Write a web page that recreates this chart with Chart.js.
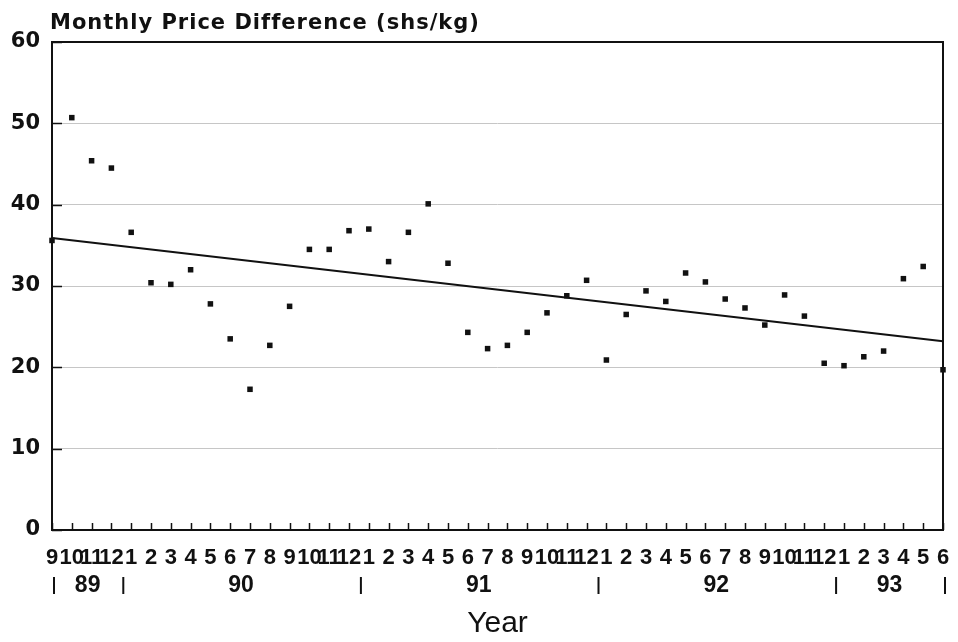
<!DOCTYPE html>
<html>
<head>
<meta charset="utf-8">
<script src="https://cdn.jsdelivr.net/npm/chart.js@4/dist/chart.umd.min.js"></script>
<style>
  html, body { margin: 0; padding: 0; background: #fff; }
  #wrap { width: 958px; height: 642px; position: relative; }
</style>
</head>
<body>
<div id="wrap"><canvas id="priceChart"></canvas></div>
<script>
// month numbers, Sep 1989 .. Jun 1993
const monthLabels = ['9', '10', '11', '12',
  '1', '2', '3', '4', '5', '6', '7', '8', '9', '10', '11', '12',
  '1', '2', '3', '4', '5', '6', '7', '8', '9', '10', '11', '12',
  '1', '2', '3', '4', '5', '6', '7', '8', '9', '10', '11', '12',
  '1', '2', '3', '4', '5', '6'];

// year groups under the month axis
const yearLabels = ['89', '90', '91', '92', '93'];
const monthsPerYear = [4, 12, 12, 12, 6];

// monthly price difference (shs/kg)
const priceDiff = [35.6, 50.7, 45.4, 44.5,
  36.6, 30.4, 30.2, 32.0, 27.8, 23.5, 17.3, 22.7, 27.5, 34.5, 34.5, 36.8,
  37.0, 33.0, 36.6, 40.1, 32.8, 24.3, 22.3, 22.7, 24.3, 26.7, 28.8, 30.7,
  20.9, 26.5, 29.4, 28.1, 31.6, 30.5, 28.4, 27.3, 25.2, 28.9, 26.3, 20.5,
  20.2, 21.3, 22.0, 30.9, 32.4, 19.7];

// linear trend, start and end values
const trendEnds = [35.9, 23.2];

const yTicks = [0, 10, 20, 30, 40, 50, 60];

const lastIdx = monthLabels.length - 1;
const points = priceDiff.map((v, i) => ({ x: i, y: v }));
const trend = [{ x: 0, y: trendEnds[0] }, { x: lastIdx, y: trendEnds[1] }];

const sansBold = "'Liberation Sans', Arial, sans-serif";

// frame, inner tick marks, heading and year row
const decorations = {
  id: 'decorations',
  beforeDatasetsDraw(chart) {
    const { ctx, chartArea: a, scales: { x, y } } = chart;
    ctx.save();
    ctx.strokeStyle = '#111';
    ctx.lineWidth = 1.5;
    ctx.beginPath();
    for (let i = 0; i <= lastIdx; i++) {
      const px = Math.round(x.getPixelForValue(i)) + 0.5;
      ctx.moveTo(px, a.bottom);
      ctx.lineTo(px, a.bottom - 7);
    }
    yTicks.forEach(t => {
      const py = Math.round(y.getPixelForValue(t)) + 0.5;
      ctx.moveTo(a.left, py);
      ctx.lineTo(a.left + 10, py);
    });
    ctx.stroke();
    ctx.lineWidth = 2;
    ctx.strokeRect(a.left, a.top, a.right - a.left, a.bottom - a.top);
    ctx.restore();
  },
  afterDraw(chart) {
    const { ctx, chartArea: a, scales: { x } } = chart;
    ctx.save();
    ctx.fillStyle = '#111';
    ctx.font = "bold 21px 'DejaVu Sans', sans-serif";
    if ('letterSpacing' in ctx) ctx.letterSpacing = '1px';
    ctx.textAlign = 'left';
    ctx.textBaseline = 'alphabetic';
    ctx.fillText('Monthly Price Difference (shs/kg)', a.left - 2, 29);
    if ('letterSpacing' in ctx) ctx.letterSpacing = '0px';

    // year separators and labels
    const breaks = [0];
    let cum = 0;
    monthsPerYear.forEach((n, i) => {
      cum += n;
      breaks.push(i === monthsPerYear.length - 1 ? lastIdx : cum - 0.5);
    });
    const bx = breaks.map(b => x.getPixelForValue(b));
    ctx.strokeStyle = '#111';
    ctx.lineWidth = 2;
    ctx.beginPath();
    bx.forEach(px => {
      ctx.moveTo(px + 2, 577);
      ctx.lineTo(px + 2, 594);
    });
    ctx.stroke();
    ctx.font = 'bold 23px ' + sansBold;
    ctx.textAlign = 'center';
    ctx.textBaseline = 'middle';
    yearLabels.forEach((lbl, i) => {
      ctx.fillText(lbl, (bx[i] + bx[i + 1]) / 2 + 1, 586);
    });
    ctx.restore();
  }
};

new Chart(document.getElementById('priceChart'), {
  type: 'scatter',
  data: {
    datasets: [{
      label: 'Price difference',
      data: points,
      pointStyle: 'rect',
      pointRadius: 3.9,
      pointHoverRadius: 3.9,
      backgroundColor: '#111',
      borderColor: '#111',
      borderWidth: 0,
      clip: false
    }, {
      type: 'line',
      label: 'Trend',
      data: trend,
      borderColor: '#111',
      borderWidth: 2,
      pointRadius: 0,
      fill: false,
      clip: false
    }]
  },
  options: {
    responsive: true,
    maintainAspectRatio: false,
    animation: false,
    layout: { padding: { top: 42, right: 15, left: 0, bottom: 0 } },
    plugins: {
      legend: { display: false },
      tooltip: { enabled: false }
    },
    scales: {
      x: {
        type: 'linear',
        min: 0,
        max: lastIdx,
        afterBuildTicks(scale) {
          scale.ticks = monthLabels.map((_, i) => ({ value: i }));
        },
        afterFit(scale) {
          scale.height = 112;
          scale.paddingLeft = 0;
          scale.paddingRight = 0;
        },
        ticks: {
          autoSkip: false,
          maxRotation: 0,
          padding: 15,
          color: '#111',
          font: { family: sansBold, size: 22, weight: 'bold' },
          callback: (v) => monthLabels[v]
        },
        grid: { display: false, drawTicks: false },
        border: { display: false },
        title: {
          display: true,
          text: 'Year',
          color: '#111',
          font: { family: "'Liberation Sans', Arial, sans-serif", size: 30, weight: 'normal' },
          padding: { top: 36, bottom: 0 }
        }
      },
      y: {
        min: 0,
        max: 60,
        afterBuildTicks(scale) {
          scale.ticks = yTicks.map(v => ({ value: v }));
        },
        afterFit(scale) {
          scale.width = 52;
        },
        ticks: {
          padding: 12,
          color: '#111',
          font: { family: "'DejaVu Sans', sans-serif", size: 21, weight: 'bold' }
        },
        grid: { color: '#c6c6c6', lineWidth: 1, drawTicks: false },
        border: { display: false }
      }
    }
  },
  plugins: [decorations]
});
</script>
</body>
</html>
